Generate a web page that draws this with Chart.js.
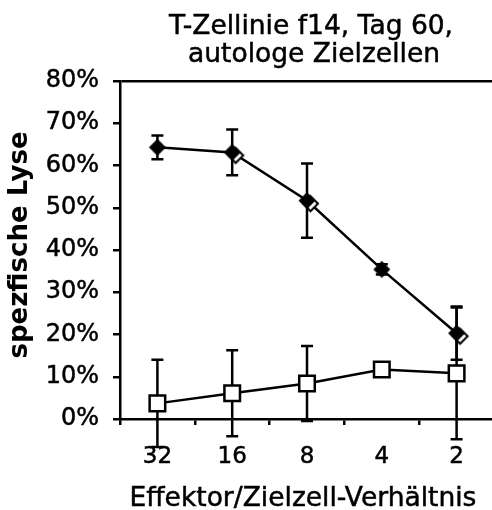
<!DOCTYPE html>
<html>
<head>
<meta charset="utf-8">
<script src="https://cdn.jsdelivr.net/npm/chart.js@4/dist/chart.umd.min.js"></script>
<style>
  html, body { margin: 0; padding: 0; background: #fff; overflow: hidden; }
  #wrap { width: 494px; height: 510px; }
</style>
</head>
<body>
<div id="wrap"><canvas id="c" width="494" height="510"></canvas></div>
<script>
// Effector : target ratios
const ratios = ['32', '16', '8', '4', '2'];

// Specific lysis (%) with standard deviations
const lysisFilled = [64.3, 63.1, 51.7, 35.4, 20.3];
const lysisFilledErr = [2.8, 5.4, 8.8, 1.2, 6.3];
const lysisOpen = [3.7, 6.1, 8.4, 11.7, 10.8];
const lysisOpenErr = [10.3, 10.2, 8.9, 0.8, 15.6];

const yMin = 0, yMax = 80, yStep = 10;

const titleLines = ['T-Zellinie f14, Tag 60,', 'autologe Zielzellen'];
const xCaption = 'Effektor/Zielzell-Verhältnis';
const yCaptionText = 'spezfische Lyse';

const FONT = '"DejaVu Sans", sans-serif';
const LW = 2.5;

// Diamond marker sprites: a plain filled one, and a filled one
// overlapping a slightly shifted hollow diamond
function diamondSprite(withShadow) {
  const c = document.createElement('canvas');
  c.width = 32; c.height = 32;
  const g = c.getContext('2d');
  const dia = (cx, cy, r) => {
    g.beginPath();
    g.moveTo(cx, cy - r); g.lineTo(cx + r, cy);
    g.lineTo(cx, cy + r); g.lineTo(cx - r, cy);
    g.closePath();
  };
  if (withShadow) {
    dia(19.5, 19, 7.5);
    g.fillStyle = '#fff'; g.fill();
    g.lineWidth = 2; g.strokeStyle = '#000'; g.stroke();
  }
  dia(16, 16, 8.5);
  g.fillStyle = '#000'; g.fill();
  return c;
}
const diamondPlain = diamondSprite(false);
const diamondDouble = diamondSprite(true);

// Vertical error bars with caps, drawn beneath the markers
const errorBars = {
  id: 'errorBars',
  beforeDatasetsDraw(chart) {
    const { ctx } = chart;
    const y = chart.scales.y;
    chart.data.datasets.forEach((ds, i) => {
      const meta = chart.getDatasetMeta(i);
      meta.data.forEach((pt, j) => {
        const v = ds.data[j], e = ds.errors[j];
        const yTop = y.getPixelForValue(v + e);
        const yBot = y.getPixelForValue(v - e);
        ctx.save();
        ctx.strokeStyle = '#000';
        ctx.lineWidth = LW;
        ctx.beginPath();
        ctx.moveTo(pt.x, yTop); ctx.lineTo(pt.x, yBot);
        ctx.moveTo(pt.x - 6, yTop); ctx.lineTo(pt.x + 6, yTop);
        ctx.moveTo(pt.x - 6, yBot); ctx.lineTo(pt.x + 6, yBot);
        ctx.stroke();
        ctx.restore();
      });
    });
  }
};

// Chart heading, x caption and rotated y caption
const captions = {
  id: 'captions',
  afterDraw(chart) {
    const { ctx, chartArea } = chart;
    const mid = (chartArea.left + chartArea.right) / 2;
    const text = (s, x, y, font, stroke) => {
      ctx.font = font;
      ctx.fillText(s, x, y);
      if (stroke) { ctx.lineWidth = stroke; ctx.strokeText(s, x, y); }
    };
    ctx.save();
    ctx.fillStyle = '#000';
    ctx.strokeStyle = '#000';
    ctx.textAlign = 'center';
    ctx.textBaseline = 'alphabetic';
    text(titleLines[0], mid + 4, 33.5, '26.5px ' + FONT, 0.5);
    text(titleLines[1], mid + 7, 62, '26.5px ' + FONT, 0.5);
    text(xCaption, mid - 4, 506, '26.5px ' + FONT, 0.5);
    ctx.restore();

    ctx.save();
    ctx.translate(20, 245);
    ctx.rotate(-Math.PI / 2);
    ctx.filter = 'blur(0.6px)';
    ctx.font = 'bold 26px ' + FONT;
    ctx.fillStyle = '#000';
    ctx.textAlign = 'center';
    ctx.textBaseline = 'middle';
    ctx.fillText(yCaptionText, 0, 0);
    ctx.restore();
  }
};

new Chart(document.getElementById('c'), {
  type: 'line',
  data: {
    labels: ratios,
    datasets: [
      {
        data: lysisFilled,
        errors: lysisFilledErr,
        borderColor: '#000',
        borderWidth: LW,
        pointStyle: [diamondPlain, diamondDouble, diamondDouble, diamondPlain, diamondDouble],
        pointRadius: 9,
        tension: 0,
        clip: false
      },
      {
        data: lysisOpen,
        errors: lysisOpenErr,
        borderColor: '#000',
        borderWidth: LW,
        pointStyle: 'rect',
        pointRadius: 11,
        pointBackgroundColor: '#fff',
        pointBorderColor: '#000',
        pointBorderWidth: LW,
        tension: 0,
        clip: false
      }
    ]
  },
  options: {
    responsive: false,
    animation: false,
    events: [],
    layout: { padding: { top: 81, left: 0, right: 0, bottom: 0 }, autoPadding: false },
    plugins: {
      legend: { display: false },
      tooltip: { enabled: false },
      title: { display: false }
    },
    scales: {
      x: {
        type: 'category',
        offset: true,
        grid: {
          offset: true,
          drawOnChartArea: false,
          drawTicks: true,
          tickLength: 6,
          color: '#000',
          tickColor: '#000',
          lineWidth: LW
        },
        border: { display: true, color: '#000', width: LW },
        ticks: {
          color: '#000',
          font: { family: FONT, size: 23 },
          textStrokeColor: '#000',
          textStrokeWidth: 0.5,
          padding: 18,
          maxRotation: 0,
          autoSkip: false
        },
        afterFit(scale) {
          scale.height = 91;
          scale.paddingLeft = 0;
          scale.paddingRight = 0;
        }
      },
      y: {
        min: yMin,
        max: yMax,
        grid: {
          drawOnChartArea: true,
          drawTicks: true,
          tickLength: 7,
          color: (c) => (c.tick && c.tick.value === yMax ? '#000' : 'rgba(0,0,0,0)'),
          tickColor: '#000',
          lineWidth: LW
        },
        border: { display: true, color: '#000', width: LW },
        ticks: {
          stepSize: yStep,
          color: '#000',
          font: { family: FONT, size: 24 },
          textStrokeColor: '#000',
          textStrokeWidth: 0.5,
          padding: 14,
          callback: (v) => v + '%'
        },
        afterFit(scale) {
          scale.width = 120;
          scale.paddingTop = 0;
          scale.paddingBottom = 0;
        }
      }
    }
  },
  plugins: [errorBars, captions]
});
</script>
</body>
</html>
